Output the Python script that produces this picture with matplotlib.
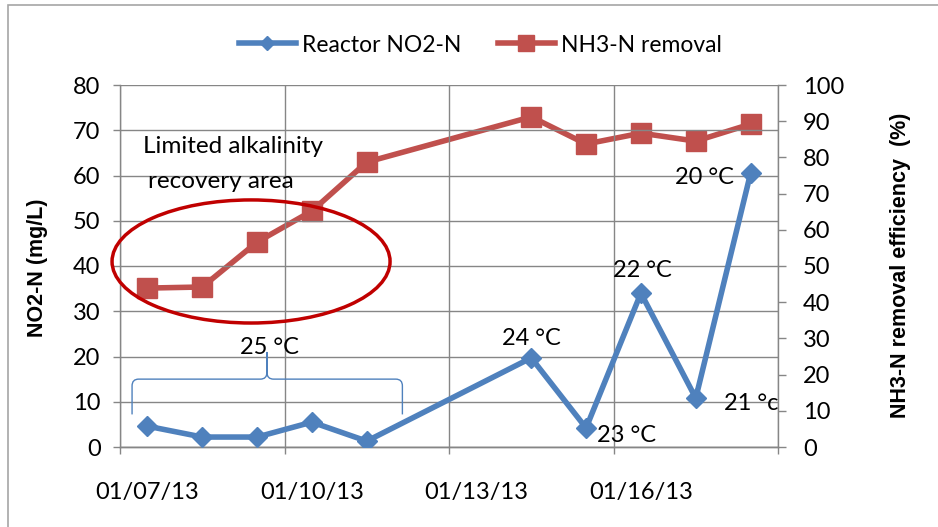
import datetime as dt

import matplotlib

matplotlib.use("Agg")

import matplotlib.dates as mdates
import matplotlib.pyplot as plt
from matplotlib.patches import Ellipse, PathPatch, Rectangle
from matplotlib.path import Path

plt.rcParams["font.family"] = ["Lato", "DejaVu Sans"]

DATES = ["2013-01-07", "2013-01-08", "2013-01-09", "2013-01-10", "2013-01-11",
         "2013-01-14", "2013-01-15", "2013-01-16", "2013-01-17", "2013-01-18"]
NO2_N = [4.6, 2.2, 2.2, 5.5, 1.3, 19.7, 4.2, 34.0, 10.8, 60.5]
NH3_REMOVAL = [43.9, 44.2, 56.6, 65.2, 78.7, 91.2, 83.7, 86.7, 84.5, 89.2]
TICK_DATES = ["2013-01-07", "2013-01-10", "2013-01-13", "2013-01-16", "2013-01-19"]
LABEL_DATES = ["2013-01-07", "2013-01-10", "2013-01-13", "2013-01-16"]
TICK_LABELS = ["01/07/13", "01/10/13", "01/13/13", "01/16/13"]
TEMP_LABELS = ["24 °C", "23 °C", "22 °C", "21 °c", "20 °C"]

BLUE = "#4F81BD"
RED = "#C0504D"
GRID = "#868686"
FS = 17


def day(s):
    return mdates.date2num(dt.datetime.strptime(s, "%Y-%m-%d"))


# Excel date axis: points and labels sit in the middle of each day
x = [day(d) + 0.5 for d in DATES]
x0 = day("2013-01-07")

fig = plt.figure(figsize=(9.38, 5.27), dpi=100)
fig.patches.append(Rectangle((8 / 938, -0.1), 1.2, 1.1 - 5 / 527, transform=fig.transFigure,
                             fill=False, edgecolor="#A6A6A6", linewidth=1.2))
ax = fig.add_axes([120 / 938, 80 / 527, 658 / 938, 362 / 527])
ax2 = ax.twinx()

ax.set_xlim(x0, x0 + 12)
ax.set_ylim(0, 80)
ax2.set_ylim(0, 100)
ax.set_yticks(range(0, 81, 10))
ax2.set_yticks(range(0, 101, 10))
ax.set_xticks([day(d) for d in TICK_DATES])
ax.set_xticklabels([])
ax.set_xticks([day(d) + 0.5 for d in LABEL_DATES], minor=True)
ax.set_xticklabels(TICK_LABELS, minor=True)

ax.grid(True, which="major", color=GRID, linewidth=1.0)
ax.set_axisbelow(True)
for a in (ax, ax2):
    for sp in a.spines.values():
        sp.set_color(GRID)
        sp.set_linewidth(1.0)
    a.spines["top"].set_visible(False)
ax.spines["right"].set_visible(False)
ax2.spines["left"].set_visible(False)
ax.tick_params(axis="both", color=GRID, length=5, width=1.0, labelsize=FS)
ax.tick_params(axis="y", pad=9)
ax.tick_params(axis="x", which="minor", length=0, pad=25, labelsize=FS)
ax2.tick_params(axis="y", color=GRID, length=6, width=1.0, labelsize=FS, pad=12)

fig.text(37 / 938, 1 - 268 / 527, "NO2-N (mg/L)", rotation=90, ha="center", va="center",
         fontsize=15.5, fontweight="bold", family="Liberation Sans")
fig.text(900 / 938, 1 - 265 / 527, "NH3-N removal efficiency  (%)", rotation=90,
         ha="center", va="center", fontsize=15.5, fontweight="bold", family="Liberation Sans")

ax.plot(x, NO2_N, color=BLUE, linewidth=4, marker="D", markersize=10,
        label="Reactor NO2-N", zorder=3)
ax2.plot(x, NH3_REMOVAL, color=RED, linewidth=4, marker="s", markersize=15,
         label="NH3-N removal", zorder=3)
ax.set_zorder(ax2.get_zorder() + 1)
ax.patch.set_visible(False)

# ellipse around the limited alkalinity region
ax.add_patch(Ellipse((x0 + 2.39, 41.0), 5.07, 27.2, fill=False, edgecolor="#C00000",
                     linewidth=2.5, zorder=4, clip_on=False))
ax.text(x0 + 0.42, 66.3, "Limited alkalinity", fontsize=17.5, va="center")
ax.text(x0 + 0.51, 58.6, "recovery area", fontsize=17.5, va="center")

# brace over the 25 °C points
bl, br, bm = x0 + 0.22, x0 + 5.15, x0 + 2.68
yb, yt, ytip = 7.2, 15.0, 21.0
r = 0.12
verts = [(bl, yb), (bl, yt - 1.5), (bl, yt), (bl + r, yt),
         (bm - r, yt), (bm, yt), (bm, yt + 1.5), (bm, ytip),
         (bm, yt + 1.5), (bm, yt), (bm + r, yt),
         (br - r, yt), (br, yt), (br, yt - 1.5), (br, yb)]
codes = [Path.MOVETO, Path.LINETO, Path.CURVE3, Path.CURVE3,
         Path.LINETO, Path.CURVE3, Path.CURVE3, Path.LINETO,
         Path.LINETO, Path.CURVE3, Path.CURVE3,
         Path.LINETO, Path.CURVE3, Path.CURVE3, Path.LINETO]
ax.add_patch(PathPatch(Path(verts, codes), fill=False, edgecolor=BLUE, linewidth=1.0, zorder=4))
ax.text(bm + 0.05, 22.0, "25 °C", fontsize=17, ha="center", va="center")

# temperature labels
ax.text(x[5], 24.0, TEMP_LABELS[0], fontsize=17, ha="center", va="center")
ax.text(x[7] - 0.26, 2.6, TEMP_LABELS[1], fontsize=17, ha="center", va="center")
ax.text(x[7] + 0.02, 39.0, TEMP_LABELS[2], fontsize=17, ha="center", va="center")
ax.text(x[8] + 1.02, 9.6, TEMP_LABELS[3], fontsize=17, ha="center", va="center")
ax.text(x[9] - 0.84, 59.5, TEMP_LABELS[4], fontsize=17, ha="center", va="center")

h1, l1 = ax.get_legend_handles_labels()
h2, l2 = ax2.get_legend_handles_labels()
fig.legend(h1 + h2, l1 + l2, loc="center", bbox_to_anchor=(480 / 938, 1 - 45 / 527), ncol=2,
           frameon=False, fontsize=16.5, handlelength=2.5, columnspacing=1.6, handletextpad=0.25,
           markerscale=0.75)

fig.savefig("out.png", dpi=100)
